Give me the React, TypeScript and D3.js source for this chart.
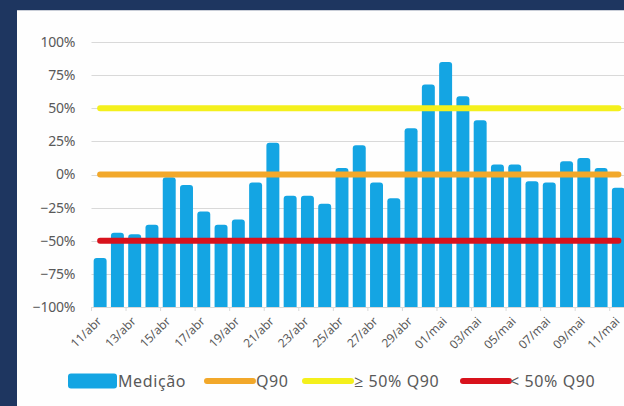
import React, { useEffect, useRef } from 'react';
import * as d3 from 'd3';

// dates shown on the category axis (one bar per day)
const dates = [
  '11/abr', '12/abr', '13/abr', '14/abr', '15/abr', '16/abr', '17/abr', '18/abr', '19/abr', '20/abr',
  '21/abr', '22/abr', '23/abr', '24/abr', '25/abr', '26/abr', '27/abr', '28/abr', '29/abr', '30/abr',
  '01/mai', '02/mai', '03/mai', '04/mai', '05/mai', '06/mai', '07/mai', '08/mai', '09/mai', '10/mai', '11/mai',
];

// medição, relative to Q90
const medicao = [
  -0.63, -0.44, -0.45, -0.38, -0.02, -0.08, -0.28, -0.38, -0.34, -0.06,
  0.24, -0.16, -0.16, -0.22, 0.05, 0.22, -0.06, -0.18, 0.35, 0.68,
  0.85, 0.59, 0.41, 0.075, 0.075, -0.05, -0.06, 0.10, 0.125, 0.05, -0.10,
];

const yTicks = [1, 0.75, 0.5, 0.25, 0, -0.25, -0.5, -0.75, -1];

const thresholdNames = ['Q90', '≥ 50% Q90', '< 50% Q90'];
const thresholdValues = [0, 0.5, -0.5];
const thresholdColors = ['#f2a82a', '#f4f01c', '#d8121c'];

const barColor = '#14a5e3';
const textColor = '#595959';
const font = '"Noto Sans", "Open Sans", sans-serif';

const App = () => {
  const svgRef = useRef<SVGSVGElement>(null);

  useEffect(() => {
    document.documentElement.style.overflow = 'hidden';
    document.body.style.margin = '0';
    document.body.style.overflow = 'hidden';
    document.body.style.background = '#fefefe';

    const width = 624;
    const height = 406;
    const margin = { top: 42, right: -3, bottom: 99, left: 91.5 };

    const svg = d3.select(svgRef.current);
    svg.selectAll('*').remove();

    // navy frame + white panel
    svg.append('rect').attr('width', width).attr('height', height).attr('fill', '#1e3660');
    svg.append('rect').attr('x', 17).attr('y', 10).attr('width', width + 20).attr('height', height + 20).attr('fill', '#fefefe');
    svg.append('line').attr('x1', 17).attr('x2', width).attr('y1', 10.5).attr('y2', 10.5).attr('stroke', '#c9ced8');

    const x = d3.scaleBand<string>()
      .domain(dates)
      .range([margin.left, width - margin.right])
      .paddingInner(0.25)
      .paddingOuter(0.125);

    const y = d3.scaleLinear()
      .domain([-1, 1])
      .range([height - margin.bottom, margin.top]);

    // gridlines
    svg.append('g')
      .selectAll('line')
      .data(yTicks)
      .join('line')
      .attr('x1', margin.left)
      .attr('x2', width)
      .attr('y1', d => Math.round(y(d)) + 0.5)
      .attr('y2', d => Math.round(y(d)) + 0.5)
      .attr('stroke', '#d9d9d9')
      .attr('stroke-width', 1);

    // y tick labels
    svg.append('g')
      .selectAll('text')
      .data(yTicks)
      .join('text')
      .attr('x', 75)
      .attr('y', d => y(d))
      .attr('dy', '0.35em')
      .attr('text-anchor', 'end')
      .attr('font-family', font)
      .attr('font-size', 14)
      .attr('letter-spacing', -0.3)
      .attr('fill', textColor)
      .text(d => d3.format('.0%')(d));

    // category tick marks (every second day)
    const step = x.step();
    svg.append('g')
      .selectAll('line')
      .data(d3.range(0, dates.length + 1, 2))
      .join('line')
      .attr('x1', i => margin.left + i * step)
      .attr('x2', i => margin.left + i * step)
      .attr('y1', y(-1))
      .attr('y2', y(-1) + 4)
      .attr('stroke', '#d9d9d9');

    // bars with softly rounded tops
    const bw = x.bandwidth();
    const r = 3;
    svg.append('g')
      .selectAll('path')
      .data(medicao)
      .join('path')
      .attr('d', (v, i) => {
        const x0 = x(dates[i]) as number;
        const y0 = y(-1);
        const y1 = y(v);
        return `M${x0},${y0}V${y1 + r}Q${x0},${y1} ${x0 + r},${y1}H${x0 + bw - r}Q${x0 + bw},${y1} ${x0 + bw},${y1 + r}V${y0}Z`;
      })
      .attr('fill', barColor);

    // threshold lines
    const line = d3.line<string>()
      .x(d => (x(d) as number) + bw / 2);

    thresholdValues.forEach((tv, k) => {
      svg.append('path')
        .datum(dates)
        .attr('d', line.y(() => y(tv)))
        .attr('fill', 'none')
        .attr('stroke', thresholdColors[k])
        .attr('stroke-width', 6)
        .attr('stroke-linecap', 'round');
    });

    // x labels (every second day, rotated)
    svg.append('g')
      .selectAll('text')
      .data(dates.filter((_, i) => i % 2 === 0))
      .join('text')
      .attr('transform', d => `translate(${(x(d) as number) + bw / 2 + 2},${y(-1) + 15}) rotate(-45)`)
      .attr('text-anchor', 'end')
      .attr('font-family', font)
      .attr('font-size', 12)
      .attr('fill', textColor)
      .text(d => d);

    // legend
    const legend = svg.append('g')
      .attr('font-family', font)
      .attr('font-size', 16)
      .attr('letter-spacing', 0.6)
      .attr('fill', textColor);
    const ly = 381;
    legend.append('rect')
      .attr('x', 68).attr('y', ly - 7.5).attr('width', 49).attr('height', 15).attr('rx', 3)
      .attr('fill', barColor);
    legend.append('text').attr('x', 118).attr('y', ly).attr('dy', '0.35em').text('Medição');

    const legendX = [207, 305, 463];
    const textX = [256, 354, 510];
    thresholdNames.forEach((name, k) => {
      legend.append('line')
        .attr('x1', legendX[k]).attr('x2', legendX[k] + 46)
        .attr('y1', ly).attr('y2', ly)
        .attr('stroke', thresholdColors[k]).attr('stroke-width', 6).attr('stroke-linecap', 'round');
      legend.append('text').attr('x', textX[k]).attr('y', ly).attr('dy', '0.35em').text(name);
    });
  });

  return (
    <svg ref={svgRef} width={624} height={406} style={{ position: 'fixed', left: 0, top: 0, display: 'block' }}></svg>
  );
};

export default App;
